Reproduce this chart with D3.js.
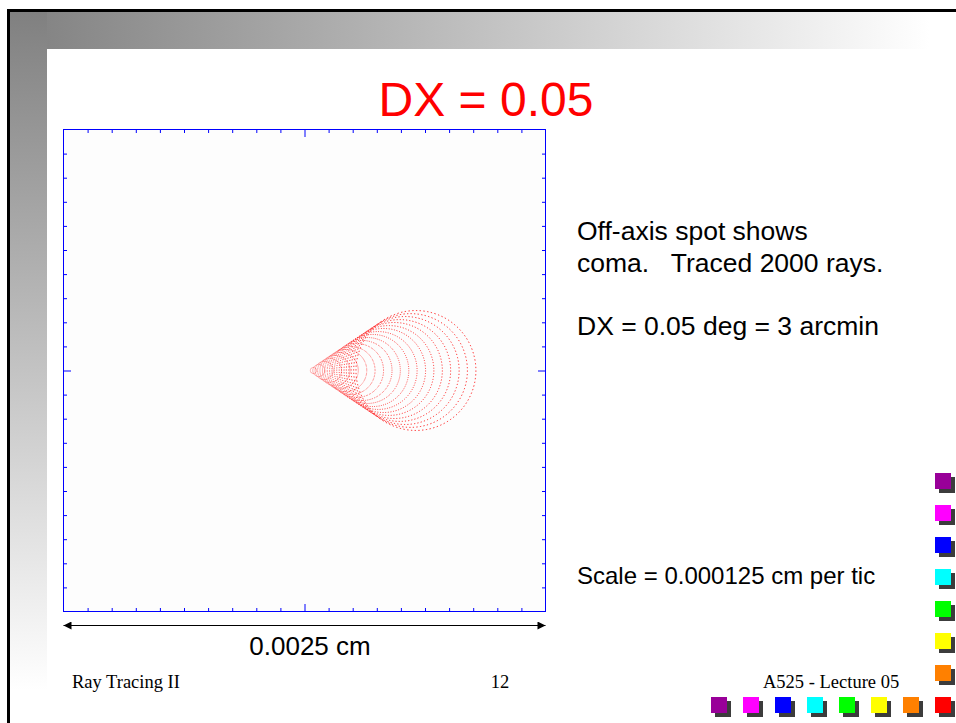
<!DOCTYPE html>
<html>
<head>
<meta charset="utf-8">
<script src="https://cdn.jsdelivr.net/npm/d3@7"></script>
<style>
  body { margin: 0; background: #fff; }
  svg { display: block; }
</style>
</head>
<body>
<div id="chart"></div>
<script>
// spot diagram in microns: 1 tic = 0.000125 cm = 1.25 um, box is 0.0025 cm wide
const axisDomain = [-12.5, 12.5];
const ticStep = 1.25;

// coma rings: centre along x and radius (um)
const ringCenterX = [0.46, 0.74, 1.02, 1.30, 1.58, 1.86, 2.14, 2.42, 2.70, 2.98,
                     3.26, 3.54, 3.82, 4.10, 4.38, 4.66, 4.94, 5.22, 5.50, 5.78];
const ringRadius  = [0.16, 0.31, 0.47, 0.62, 0.78, 0.93, 1.09, 1.24, 1.40, 1.56,
                     1.71, 1.87, 2.02, 2.18, 2.33, 2.49, 2.64, 2.80, 2.95, 3.11];
const ringCenterY = 0;
const raysPerRing = 100;

const titleText = "DX = 0.05";
const noteLines = ["Off-axis spot shows", "coma.   Traced 2000 rays.", "", "DX = 0.05 deg = 3 arcmin"];
const scaleNote = "Scale = 0.000125 cm per tic";
const widthLabel = "0.0025 cm";
const footerLeft = "Ray Tracing II";
const footerMid = "12";
const footerRight = "A525 - Lecture 05";
const squareColors = ["#990099", "#ff00ff", "#0000ff", "#00ffff", "#00ff00", "#ffff00", "#ff8000", "#ff0000"];

const W = 956, H = 723;
const plot = {x: 63.5, y: 129.5, size: 482};

const svg = d3.select("#chart").append("svg")
    .attr("width", W)
    .attr("height", H);

const defs = svg.append("defs");

// slide background: grey bands fading to white
const gTop = defs.append("linearGradient")
    .attr("id", "fadeTop")
    .attr("gradientUnits", "userSpaceOnUse")
    .attr("x1", 10).attr("x2", 930).attr("y1", 0).attr("y2", 0);
gTop.append("stop").attr("offset", 0).attr("stop-color", "#808080");
gTop.append("stop").attr("offset", 1).attr("stop-color", "#ffffff");

const gLeft = defs.append("linearGradient")
    .attr("id", "fadeLeft")
    .attr("gradientUnits", "userSpaceOnUse")
    .attr("x1", 0).attr("x2", 0).attr("y1", 12).attr("y2", 690);
gLeft.append("stop").attr("offset", 0).attr("stop-color", "#808080");
gLeft.append("stop").attr("offset", 1).attr("stop-color", "#ffffff");

svg.append("rect").attr("x", 10).attr("y", 12).attr("width", W - 10).attr("height", 37)
    .attr("fill", "url(#fadeTop)");
svg.append("rect").attr("x", 10).attr("y", 12).attr("width", 37).attr("height", H - 12)
    .attr("fill", "url(#fadeLeft)");

// black slide edge
svg.append("rect").attr("x", 7).attr("y", 9).attr("width", W - 7).attr("height", 3).attr("fill", "#000");
svg.append("rect").attr("x", 7).attr("y", 9).attr("width", 3).attr("height", H - 9).attr("fill", "#000");

// title
svg.append("text")
    .attr("x", 486).attr("y", 116)
    .attr("text-anchor", "middle")
    .style("font-family", "'Liberation Sans', Arial, sans-serif")
    .style("font-size", "48px")
    .style("fill", "#ff0000")
    .text(titleText);

// scales
const x = d3.scaleLinear().domain(axisDomain).range([plot.x, plot.x + plot.size]);
const y = d3.scaleLinear().domain(axisDomain).range([plot.y + plot.size, plot.y]);
const tics = d3.range(axisDomain[0] + ticStep, axisDomain[1] - ticStep / 2, ticStep);

svg.append("rect")
    .attr("x", plot.x).attr("y", plot.y)
    .attr("width", plot.size).attr("height", plot.size)
    .attr("fill", "#fdfdfd");

// coma rings, each drawn as a dotted circle with one dot per ray
svg.append("g")
    .selectAll("circle")
    .data(ringRadius)
    .join("circle")
    .attr("cx", (d, i) => x(ringCenterX[i]))
    .attr("cy", y(ringCenterY))
    .attr("r", d => x(d) - x(0))
    .attr("pathLength", raysPerRing)
    .attr("fill", "none")
    .attr("stroke", "#ff0000")
    .attr("stroke-opacity", 0.85)
    .attr("stroke-width", 1)
    .attr("stroke-dasharray", "0.35 0.65");

// tick marks on all four sides, pointing inwards, long one in the middle
const minorLen = 3.5, majorLen = 7.5;
const sides = [
    {axis: d3.axisBottom(x), tr: [0, plot.y + plot.size]},
    {axis: d3.axisTop(x), tr: [0, plot.y]},
    {axis: d3.axisLeft(y), tr: [plot.x, 0]},
    {axis: d3.axisRight(y), tr: [plot.x + plot.size, 0]}
];
sides.forEach(s => {
    const g = svg.append("g")
        .attr("transform", "translate(" + s.tr[0] + "," + s.tr[1] + ")")
        .call(s.axis.tickValues(tics).tickSizeInner(-minorLen).tickSizeOuter(0).tickFormat(""));
    g.select(".domain").remove();
    g.selectAll(".tick line").attr("stroke", "#0000ff").attr("stroke-width", 1);
    g.selectAll(".tick")
        .filter(d => d === 0)
        .select("line")
        .each(function () {
            const l = d3.select(this);
            if (l.attr("y2") !== null) l.attr("y2", +l.attr("y2") / minorLen * majorLen);
            if (l.attr("x2") !== null) l.attr("x2", +l.attr("x2") / minorLen * majorLen);
        });
});

svg.append("rect")
    .attr("x", plot.x).attr("y", plot.y)
    .attr("width", plot.size).attr("height", plot.size)
    .attr("fill", "none")
    .attr("stroke", "#0000ff")
    .attr("stroke-width", 1);

// double arrow under the box
const arrow = defs.append("marker")
    .attr("id", "head")
    .attr("viewBox", "0 0 10 10")
    .attr("refX", 10).attr("refY", 5)
    .attr("markerUnits", "userSpaceOnUse")
    .attr("markerWidth", 9).attr("markerHeight", 8)
    .attr("orient", "auto-start-reverse");
arrow.append("path").attr("d", "M0,0L10,5L0,10Z").attr("fill", "#000");

svg.append("line")
    .attr("x1", x(axisDomain[0])).attr("x2", x(axisDomain[1]))
    .attr("y1", 625.5).attr("y2", 625.5)
    .attr("stroke", "#000")
    .attr("stroke-width", 1.2)
    .attr("marker-start", "url(#head)")
    .attr("marker-end", "url(#head)");

svg.append("text")
    .attr("x", 310).attr("y", 655)
    .attr("text-anchor", "middle")
    .style("font-family", "'Liberation Sans', Arial, sans-serif")
    .style("font-size", "26px")
    .style("fill", "#000")
    .text(widthLabel);

// notes on the right
const notes = svg.append("text")
    .style("font-family", "'Liberation Sans', Arial, sans-serif")
    .style("font-size", "26.5px")
    .style("fill", "#000")
    .attr("xml:space", "preserve");
noteLines.forEach((t, i) => {
    notes.append("tspan").attr("x", 577).attr("y", 240 + i * 31.5).text(t);
});
svg.append("text")
    .attr("x", 577).attr("y", 584)
    .style("font-family", "'Liberation Sans', Arial, sans-serif")
    .style("font-size", "24px")
    .style("fill", "#000")
    .text(scaleNote);

// footer
const serif = "'Liberation Serif', 'Times New Roman', serif";
svg.append("text").attr("x", 72).attr("y", 688)
    .style("font-family", serif).style("font-size", "18.5px").text(footerLeft);
svg.append("text").attr("x", 500).attr("y", 688).attr("text-anchor", "middle")
    .style("font-family", serif).style("font-size", "18.5px").text(footerMid);
svg.append("text").attr("x", 763).attr("y", 688)
    .style("font-family", serif).style("font-size", "18.5px").text(footerRight);

// decorative squares: column on the right and row along the bottom
const sq = 16, step = 32, shadow = 4;
const corner = {x: 935, y: 697};
const squares = squareColors.map((c, i) => ({c, x: corner.x, y: corner.y - (squareColors.length - 1 - i) * step}))
    .concat(squareColors.slice(0, -1).map((c, i) => ({c, x: corner.x - (squareColors.length - 1 - i) * step, y: corner.y})));
const sqG = svg.append("g");
sqG.selectAll("rect.shadow").data(squares).join("rect")
    .attr("class", "shadow")
    .attr("x", d => d.x + shadow).attr("y", d => d.y + shadow)
    .attr("width", sq).attr("height", sq)
    .attr("fill", "#3c3c3c");
sqG.selectAll("rect.face").data(squares).join("rect")
    .attr("class", "face")
    .attr("x", d => d.x).attr("y", d => d.y)
    .attr("width", sq).attr("height", sq)
    .attr("fill", d => d.c);
</script>
</body>
</html>
